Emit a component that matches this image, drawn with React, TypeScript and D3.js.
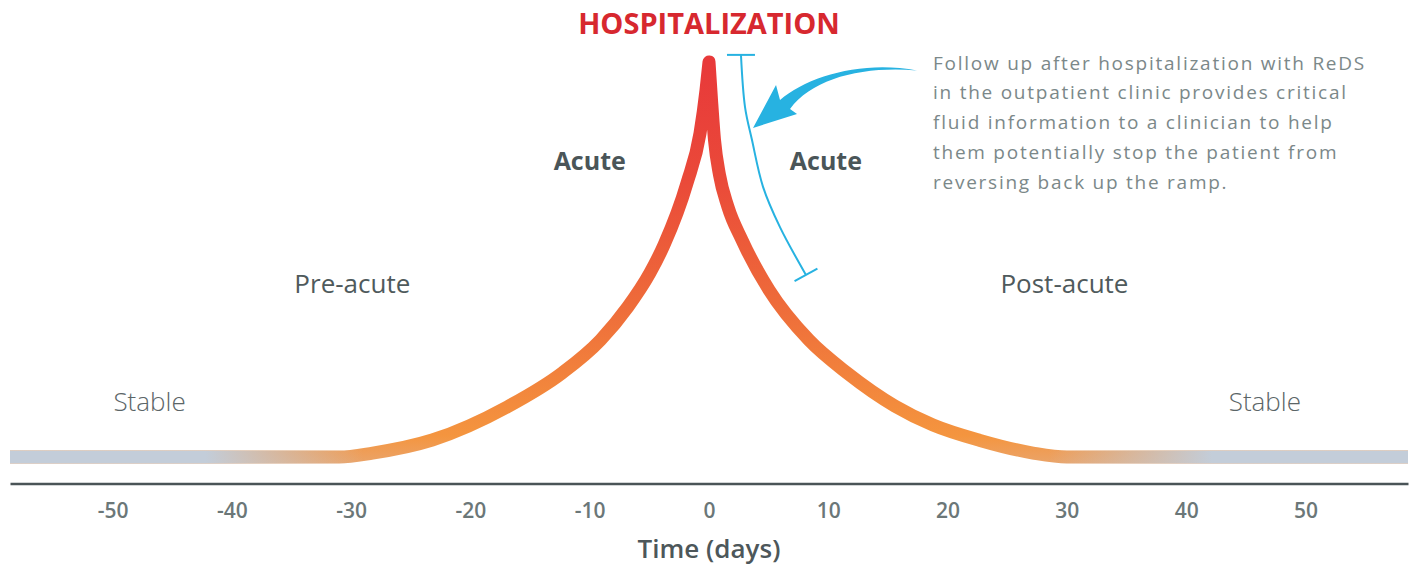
import React, { useEffect, useRef } from "react"
import * as d3 from "d3"

const WIDTH = 1417
const HEIGHT = 565

// days relative to hospitalization and relative fluid level (0 = stable, 100 = hospitalization)
const preDays = [-58.6, -45, -31, -28.2, -23.2, -16.9, -12.3, -9.1, -6.8, -4.95, -3.77, -1.84, -0.75, -0.25, 0]
const preLevel = [0, 0, 0, 1, 4.3, 12.7, 21.3, 29.6, 38, 46.6, 53.7, 69.4, 82, 92.9, 100]
const postDays = [0, 0.21, 0.46, 0.88, 1.59, 2.77, 5.03, 8.38, 11.57, 15.59, 18.78, 22.72, 27.16, 30, 45, 58.6]
const postLevel = [100, 90.4, 80.3, 71.4, 63.3, 54.9, 42.3, 29.6, 21.3, 12.9, 8.1, 4.2, 1, 0, 0, 0]

const tickDays = [-50, -40, -30, -20, -10, 0, 10, 20, 30, 40, 50]

// follow-up window (bracket) next to the descending side
const followDays = [2.68, 3.02, 3.6, 4.53, 5.95, 8.13]
const followLevel = [101.8, 88.6, 80.3, 68.4, 58.2, 46.1]

const title = "HOSPITALIZATION"
const axisTitle = "Time (days)"
const acuteLabel = "Acute"
const phaseLabels = ["Pre-acute", "Post-acute"]
const stableLabel = "Stable"
const note = [
	"Follow up after hospitalization with ReDS",
	"in the outpatient clinic provides critical",
	"fluid information to a clinician to help",
	"them potentially stop the patient from",
	"reversing back up the ramp.",
]

const FONT = "'Open Sans', sans-serif"
const BLUE = "#27b2e1"

const App = () => {
	const ref = useRef<SVGSVGElement>(null)

	useEffect(() => {
		const svg = d3.select(ref.current)
		svg.selectAll("*").remove()

		const x = d3.scaleLinear().domain([-58.6, 58.6]).range([10, 1408])
		const y = d3.scaleLinear().domain([0, 100]).range([457, 62])

		const defs = svg.append("defs")

		// red at the peak, orange at the foot of the ramp
		const ramp = defs
			.append("linearGradient")
			.attr("id", "ramp")
			.attr("gradientUnits", "userSpaceOnUse")
			.attr("x1", 0)
			.attr("x2", 0)
			.attr("y1", y(100))
			.attr("y2", y(0) + 7)
		const rampStops: [number, string][] = [
			[0, "#e8393a"],
			[0.3, "#ea4a39"],
			[0.6, "#ee6b3a"],
			[0.85, "#f38b3d"],
			[0.93, "#f4953f"],
			[1, "#eaa46a"],
		]
		rampStops.forEach(([o, c]) => ramp.append("stop").attr("offset", o).attr("stop-color", c))

		// grey-blue stable level fading in at both ends
		const [r0, r1] = x.range()
		const off = (d: number) => (x(d) - r0) / (r1 - r0)
		const fade = defs
			.append("linearGradient")
			.attr("id", "fade")
			.attr("gradientUnits", "userSpaceOnUse")
			.attr("x1", r0)
			.attr("x2", r1)
			.attr("y1", 0)
			.attr("y2", 0)
		const fadeStops: [number, number][] = [
			[-58.6, 1],
			[-42.2, 1],
			[-29, 0],
			[28.5, 0],
			[42.2, 1],
			[58.6, 1],
		]
		fadeStops.forEach(([d, a]) =>
			fade.append("stop").attr("offset", off(d)).attr("stop-color", "#c3cdd9").attr("stop-opacity", a),
		)

		// the ramp line, both sides joined at the peak
		const line = d3
			.line<[number, number]>()
			.x(d => x(d[0]))
			.y(d => y(d[1]))
			.curve(d3.curveMonotoneX)
		const pre = line(preDays.map((d, i) => [d, preLevel[i]])) || ""
		const post = line(postDays.map((d, i) => [d, postLevel[i]])) || ""
		const rampPath = pre + post.replace(/^M[^A-Za-z]*/, "")

		svg
			.append("path")
			.attr("d", rampPath)
			.attr("fill", "none")
			.attr("stroke", "url(#ramp)")
			.attr("stroke-width", 13)
			.attr("stroke-linejoin", "round")
		svg
			.append("path")
			.attr("d", rampPath)
			.attr("fill", "none")
			.attr("stroke", "url(#fade)")
			.attr("stroke-width", 13)
			.attr("stroke-linejoin", "round")

		// x axis
		const axis = svg
			.append("g")
			.attr("transform", "translate(0,483.5)")
			.call(
				d3
					.axisBottom(x)
					.tickValues(tickDays)
					.tickSize(0)
					.tickFormat(d => String(d)),
			)
		axis.select(".domain").attr("stroke", "#4a5457").attr("stroke-width", 2.6)
		axis
			.selectAll("text")
			.attr("y", 34.5)
			.attr("dy", 0)
			.attr("fill", "#6b7778")
			.style("font-family", FONT)
			.style("font-size", "21px")
			.style("font-weight", 600)

		svg
			.append("text")
			.attr("x", x(0))
			.attr("y", 558)
			.attr("text-anchor", "middle")
			.attr("fill", "#4d575a")
			.style("font-family", FONT)
			.style("font-size", "26px")
			.style("font-weight", 600)
			.text(axisTitle)

		// follow-up bracket
		const bPts = followDays.map((d, i) => [x(d), y(followLevel[i])] as [number, number])
		svg
			.append("path")
			.attr("d", d3.line().curve(d3.curveCatmullRom.alpha(0.5))(bPts))
			.attr("fill", "none")
			.attr("stroke", BLUE)
			.attr("stroke-width", 2)
		const top = bPts[0]
		svg
			.append("line")
			.attr("x1", top[0] - 14)
			.attr("x2", top[0] + 14)
			.attr("y1", top[1])
			.attr("y2", top[1])
			.attr("stroke", BLUE)
			.attr("stroke-width", 2)
		const p = bPts[bPts.length - 1]
		const q = bPts[bPts.length - 2]
		const len = Math.hypot(p[0] - q[0], p[1] - q[1])
		const nx = -(p[1] - q[1]) / len
		const ny = (p[0] - q[0]) / len
		svg
			.append("line")
			.attr("x1", p[0] + nx * 13)
			.attr("y1", p[1] + ny * 13)
			.attr("x2", p[0] - nx * 13)
			.attr("y2", p[1] - ny * 13)
			.attr("stroke", BLUE)
			.attr("stroke-width", 2)

		// curved arrow pointing at the bracket
		const tx = x(3.69)
		const ty = y(83.3)
		const pt = (dx: number, dy: number) => `${tx + dx},${ty + dy}`
		svg
			.append("path")
			.attr(
				"d",
				`M${pt(0, 0)}L${pt(23, -43)}L${pt(27, -28)}C${pt(55, -52)} ${pt(110, -68)} ${pt(164, -57.5)}` +
					`C${pt(110, -62)} ${pt(60, -50)} ${pt(37, -19)}L${pt(44, -14)}Z`,
			)
			.attr("fill", BLUE)

		// labels
		svg
			.append("text")
			.attr("x", x(0))
			.attr("y", 33.5)
			.attr("text-anchor", "middle")
			.attr("fill", "#d7282f")
			.style("font-family", FONT)
			.style("font-size", "29px")
			.style("font-weight", 700)
			.text(title)

		;[-10, 9.8].forEach(d =>
			svg
				.append("text")
				.attr("x", x(d))
				.attr("y", 169.5)
				.attr("text-anchor", "middle")
				.attr("fill", "#4a5558")
				.style("font-family", FONT)
				.style("font-size", "25px")
				.style("font-weight", 700)
				.text(acuteLabel),
		)

		;[-29.9, 29.8].forEach((d, i) =>
			svg
				.append("text")
				.attr("x", x(d))
				.attr("y", 293)
				.attr("text-anchor", "middle")
				.attr("fill", "#4f5a5c")
				.style("font-family", FONT)
				.style("font-size", "26px")
				.text(phaseLabels[i]),
		)

		;[-46.9, 46.6].forEach(d =>
			svg
				.append("text")
				.attr("x", x(d))
				.attr("y", 411)
				.attr("text-anchor", "middle")
				.attr("fill", "#5b6567")
				.style("font-family", FONT)
				.style("font-size", "26px")
				.style("font-weight", 300)
				.text(stableLabel),
		)

		const noteText = svg
			.append("text")
			.attr("fill", "#7b8889")
			.style("font-family", FONT)
			.style("font-size", "19px")
			.style("letter-spacing", "1.75px")
		note.forEach((t, i) =>
			noteText
				.append("tspan")
				.attr("x", 933)
				.attr("y", 69.5 + i * 29.75)
				.text(t),
		)
	}, [])

	return (
		<svg
			ref={ref}
			width={WIDTH}
			height={HEIGHT}
			style={{ position: "absolute", left: 0, top: 0, background: "#fff" }}
		/>
	)
}

export default App
